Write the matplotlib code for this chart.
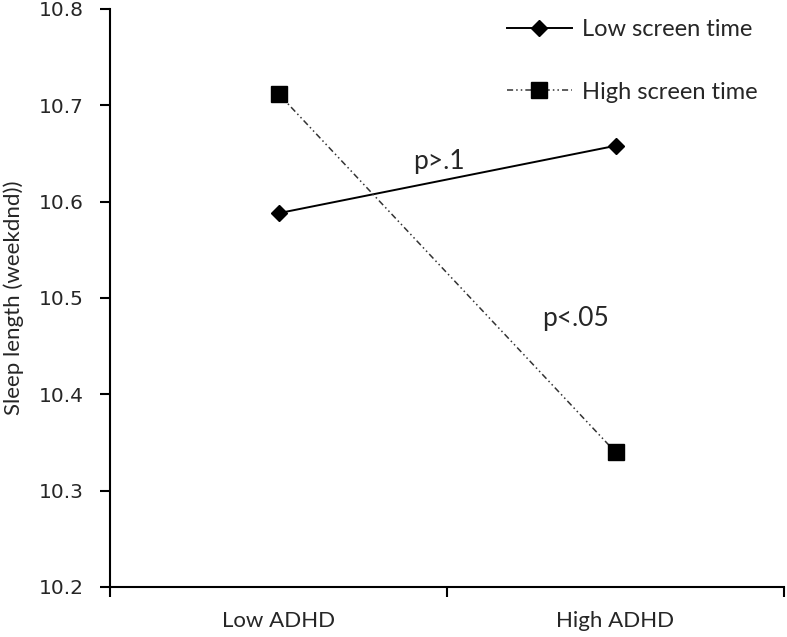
import matplotlib
matplotlib.use("Agg")
import matplotlib.pyplot as plt
from matplotlib.ticker import FixedLocator, NullFormatter

categories = ["Low ADHD", "High ADHD"]
low_screen = [10.588, 10.658]
high_screen = [10.712, 10.340]
series_labels = ["Low screen time", "High screen time"]
yticks = [10.2, 10.3, 10.4, 10.5, 10.6, 10.7, 10.8]

W, H = 787, 637
fig = plt.figure(figsize=(W / 100, H / 100), dpi=100)
ax = fig.add_axes([110 / W, 1 - 587 / H, 674 / W, 578 / H])

txt = "#262626"
x = [1, 2]
ax.plot(x, low_screen, color="black", lw=1.4, marker="D", ms=8.5,
        label=series_labels[0])
ax.plot(x, high_screen, color="#333333", lw=1.1,
        linestyle=(0, (4, 2, 1, 2, 1, 2)), marker="s", ms=11,
        markerfacecolor="black", markeredgecolor="black",
        label=series_labels[1])

ax.set_xlim(0.5, 2.5)
ax.set_ylim(10.2, 10.8)
ax.set_yticks(yticks)
ax.set_yticklabels([f"{v:.1f}" for v in yticks], fontsize=14.5, color=txt,
                   family="DejaVu Sans")
ax.xaxis.set_major_locator(FixedLocator([0.5, 1.5, 2.5]))
ax.xaxis.set_major_formatter(NullFormatter())
ax.xaxis.set_minor_locator(FixedLocator(x))
ax.set_xticklabels(categories, minor=True, fontsize=16, family="Lato",
                   color=txt)
ax.tick_params(axis="x", which="minor", length=0, pad=17)
ax.tick_params(axis="x", which="major", length=7.2, width=1.5, direction="out")
ax.tick_params(axis="y", length=7.2, width=1.5, direction="out", pad=12)

for s in ["top", "right"]:
    ax.spines[s].set_visible(False)
for s in ["left", "bottom"]:
    ax.spines[s].set_linewidth(1.5)

ax.set_ylabel("Sleep length (weekdnd))", fontsize=16, family="Lato",
              color=txt)
ax.yaxis.set_label_coords(-0.128, 0.5)

ax.text(1.475, 10.642, "p>.1", fontsize=19, family="Lato", ha="center",
        va="center", color=txt)
ax.text(1.88, 10.479, "p<.05", fontsize=19, family="Lato", ha="center",
        va="center", color=txt)

leg = ax.legend(loc="upper left", bbox_to_anchor=(507 / W, 1 - 19 / H),
                bbox_transform=fig.transFigure, frameon=False,
                prop={"family": "Lato", "size": 17}, labelspacing=1.76,
                handlelength=2.75, handletextpad=0.42, borderpad=0,
                borderaxespad=0)
for t in leg.get_texts():
    t.set_color(txt)

fig.savefig("out.png", dpi=100)
